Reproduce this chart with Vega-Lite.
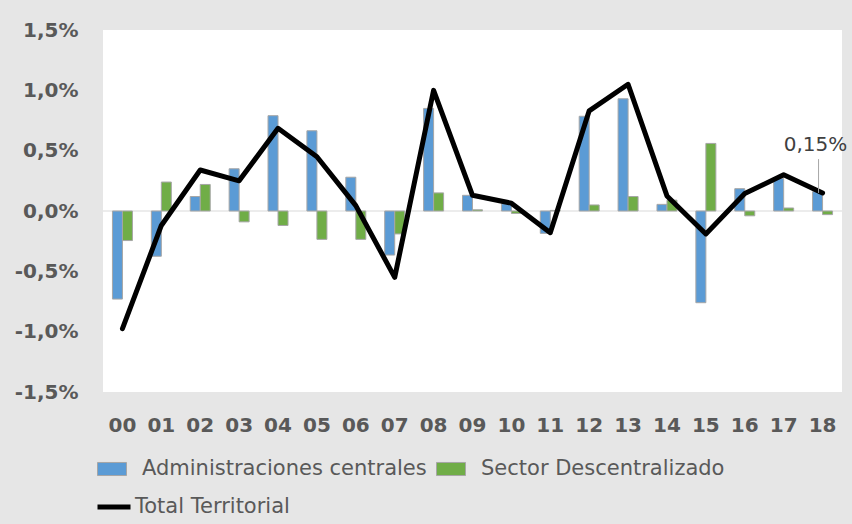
{
  "$schema": "https://vega.github.io/schema/vega-lite/v6.json",
  "width": 739,
  "height": 362,
  "autosize": {"type": "none"},
  "padding": {"left": 103, "top": 30, "right": 10, "bottom": 132},
  "background": "#e6e6e6",
  "config": {
    "view": {"fill": "white", "stroke": null},
    "font": "DejaVu Sans"
  },
  "datasets": {
    "bars": [
      {"year": "00", "serie": "Administraciones centrales", "valor": -0.73},
      {"year": "00", "serie": "Sector Descentralizado", "valor": -0.245},
      {"year": "01", "serie": "Administraciones centrales", "valor": -0.375},
      {"year": "01", "serie": "Sector Descentralizado", "valor": 0.24},
      {"year": "02", "serie": "Administraciones centrales", "valor": 0.12},
      {"year": "02", "serie": "Sector Descentralizado", "valor": 0.22},
      {"year": "03", "serie": "Administraciones centrales", "valor": 0.35},
      {"year": "03", "serie": "Sector Descentralizado", "valor": -0.09},
      {"year": "04", "serie": "Administraciones centrales", "valor": 0.79},
      {"year": "04", "serie": "Sector Descentralizado", "valor": -0.12},
      {"year": "05", "serie": "Administraciones centrales", "valor": 0.665},
      {"year": "05", "serie": "Sector Descentralizado", "valor": -0.235},
      {"year": "06", "serie": "Administraciones centrales", "valor": 0.28},
      {"year": "06", "serie": "Sector Descentralizado", "valor": -0.235},
      {"year": "07", "serie": "Administraciones centrales", "valor": -0.365},
      {"year": "07", "serie": "Sector Descentralizado", "valor": -0.19},
      {"year": "08", "serie": "Administraciones centrales", "valor": 0.85},
      {"year": "08", "serie": "Sector Descentralizado", "valor": 0.15},
      {"year": "09", "serie": "Administraciones centrales", "valor": 0.13},
      {"year": "09", "serie": "Sector Descentralizado", "valor": 0.01},
      {"year": "10", "serie": "Administraciones centrales", "valor": 0.06},
      {"year": "10", "serie": "Sector Descentralizado", "valor": -0.02},
      {"year": "11", "serie": "Administraciones centrales", "valor": -0.185},
      {"year": "11", "serie": "Sector Descentralizado", "valor": 0.005},
      {"year": "12", "serie": "Administraciones centrales", "valor": 0.785},
      {"year": "12", "serie": "Sector Descentralizado", "valor": 0.05},
      {"year": "13", "serie": "Administraciones centrales", "valor": 0.93},
      {"year": "13", "serie": "Sector Descentralizado", "valor": 0.12},
      {"year": "14", "serie": "Administraciones centrales", "valor": 0.055},
      {"year": "14", "serie": "Sector Descentralizado", "valor": 0.09},
      {"year": "15", "serie": "Administraciones centrales", "valor": -0.76},
      {"year": "15", "serie": "Sector Descentralizado", "valor": 0.56},
      {"year": "16", "serie": "Administraciones centrales", "valor": 0.185},
      {"year": "16", "serie": "Sector Descentralizado", "valor": -0.04},
      {"year": "17", "serie": "Administraciones centrales", "valor": 0.27},
      {"year": "17", "serie": "Sector Descentralizado", "valor": 0.025},
      {"year": "18", "serie": "Administraciones centrales", "valor": 0.16},
      {"year": "18", "serie": "Sector Descentralizado", "valor": -0.03}
    ],
    "total": [
      {"year": "00", "serie": "Total Territorial", "total": -0.975},
      {"year": "01", "serie": "Total Territorial", "total": -0.12},
      {"year": "02", "serie": "Total Territorial", "total": 0.34},
      {"year": "03", "serie": "Total Territorial", "total": 0.25},
      {"year": "04", "serie": "Total Territorial", "total": 0.685},
      {"year": "05", "serie": "Total Territorial", "total": 0.45},
      {"year": "06", "serie": "Total Territorial", "total": 0.045},
      {"year": "07", "serie": "Total Territorial", "total": -0.55},
      {"year": "08", "serie": "Total Territorial", "total": 1.0},
      {"year": "09", "serie": "Total Territorial", "total": 0.13},
      {"year": "10", "serie": "Total Territorial", "total": 0.065},
      {"year": "11", "serie": "Total Territorial", "total": -0.18},
      {"year": "12", "serie": "Total Territorial", "total": 0.83},
      {"year": "13", "serie": "Total Territorial", "total": 1.05},
      {"year": "14", "serie": "Total Territorial", "total": 0.125},
      {"year": "15", "serie": "Total Territorial", "total": -0.19},
      {"year": "16", "serie": "Total Territorial", "total": 0.145},
      {"year": "17", "serie": "Total Territorial", "total": 0.30},
      {"year": "18", "serie": "Total Territorial", "total": 0.15}
    ],
    "anno": [
      {"year": "18", "total": 0.15, "label": "0,15%"}
    ]
  },
  "layer": [
    {
      "data": {"name": "anno"},
      "mark": {"type": "rule", "color": "#d9d9d9", "strokeWidth": 1},
      "encoding": {"y": {"datum": 0, "type": "quantitative"}}
    },
    {
      "data": {"name": "bars"},
      "mark": {"type": "bar", "stroke": "#a6a6a6", "strokeWidth": 1},
      "encoding": {
        "x": {
          "field": "year", "type": "nominal",
          "scale": {"paddingInner": 0.486, "paddingOuter": 0.243},
          "axis": {"title": null, "labelAngle": 0, "domain": false, "ticks": false, "labelFontSize": 20, "labelFontWeight": "bold", "labelColor": "#595959", "labelPadding": 23}
        },
        "xOffset": {"field": "serie", "type": "nominal", "sort": ["Administraciones centrales", "Sector Descentralizado"]},
        "y": {
          "field": "valor", "type": "quantitative",
          "scale": {"domain": [-1.5, 1.5], "nice": false},
          "axis": {"title": null, "values": [-1.5, -1, -0.5, 0, 0.5, 1, 1.5], "labelExpr": "replace(replace(format(datum.value, '.1f'), '.', ','), '\u2212', '-') + '%'", "domain": false, "ticks": false, "grid": false, "labelFontSize": 20, "labelFontWeight": "bold", "labelColor": "#595959", "labelPadding": 25}
        },
        "fill": {
          "field": "serie", "type": "nominal",
          "scale": {"domain": ["Administraciones centrales", "Sector Descentralizado"], "range": ["#5b9bd5", "#70ad47"]},
          "legend": {"title": null, "orient": "none", "legendX": -6, "legendY": 424, "direction": "horizontal", "columns": 2, "symbolType": "M-1,-0.45H1V0.45H-1Z", "symbolSize": 841, "symbolStrokeColor": "#a6a6a6", "symbolStrokeWidth": 1, "symbolOpacity": 1, "labelFontSize": 21, "labelColor": "#595959", "labelOffset": 15, "columnPadding": 7, "labelLimit": 400}
        }
      }
    },
    {
      "data": {"name": "total"},
      "mark": {"type": "line", "strokeWidth": 5, "strokeJoin": "round", "strokeCap": "round"},
      "encoding": {
        "x": {"field": "year", "type": "nominal"},
        "y": {"field": "total", "type": "quantitative"},
        "stroke": {
          "field": "serie", "type": "nominal",
          "scale": {"domain": ["Total Territorial"], "range": ["#000000"]},
          "legend": {"title": null, "orient": "none", "legendX": -8, "legendY": 458, "symbolType": "stroke", "symbolSize": 1089, "symbolStrokeWidth": 5, "labelFontSize": 21, "labelColor": "#595959", "labelOffset": 2, "labelLimit": 400}
        }
      }
    },
    {
      "data": {"name": "anno"},
      "mark": {"type": "rule", "color": "#a6a6a6", "strokeWidth": 1, "xOffset": -4},
      "encoding": {
        "x": {"field": "year", "type": "nominal"},
        "y": {"field": "total", "type": "quantitative"},
        "y2": {"datum": 0.43}
      }
    },
    {
      "data": {"name": "anno"},
      "mark": {"type": "text", "dx": -7, "dy": -48, "fontSize": 20, "color": "#404040"},
      "encoding": {
        "x": {"field": "year", "type": "nominal"},
        "y": {"field": "total", "type": "quantitative"},
        "text": {"field": "label", "type": "nominal"}
      }
    }
  ]
}
